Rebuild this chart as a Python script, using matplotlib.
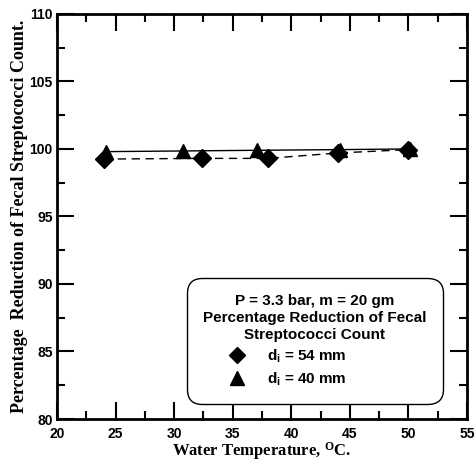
import matplotlib
matplotlib.use("Agg")
import matplotlib.pyplot as plt
from matplotlib.lines import Line2D
from matplotlib.ticker import MultipleLocator

# Data
temp_54 = [24.0, 32.4, 38.0, 44.0, 50.0]
red_54 = [99.25, 99.3, 99.3, 99.7, 99.95]
temp_40 = [24.2, 30.8, 37.1, 44.2, 50.1]
red_40 = [99.8, 99.85, 99.9, 99.95, 100.0]

legend_title = "P = 3.3 bar, m = 20 gm\nPercentage Reduction of Fecal\nStreptococci Count"
label_54 = r"$\mathregular{d_i}$ = 54 mm"
label_40 = r"$\mathregular{d_i}$ = 40 mm"

sans = "Liberation Sans"
serif = "Liberation Serif"

fig = plt.figure(figsize=(4.75, 4.63), dpi=100)
ax = fig.add_axes([0.12, 0.095, 0.863, 0.875])

ax.plot(temp_54, red_54, color="black", linestyle=(0, (6, 4)), linewidth=1.0,
        marker="D", markersize=9, markerfacecolor="black", markeredgecolor="black")
ax.plot(temp_40, red_40, color="black", linestyle="-", linewidth=1.0,
        marker="^", markersize=10, markerfacecolor="black", markeredgecolor="black")

ax.set_xlim(20, 55)
ax.set_ylim(80, 110)
ax.xaxis.set_major_locator(MultipleLocator(5))
ax.xaxis.set_minor_locator(MultipleLocator(2.5))
ax.yaxis.set_major_locator(MultipleLocator(5))
ax.yaxis.set_minor_locator(MultipleLocator(2.5))
ax.tick_params(which="both", direction="in", top=True, right=True, width=1.5, colors="black")
ax.tick_params(which="major", length=12)
ax.tick_params(which="minor", length=6)
ax.tick_params(axis="x", which="major", pad=6)
ax.tick_params(axis="y", which="major", pad=3)
for sp in ax.spines.values():
    sp.set_linewidth(2)

for lab in ax.get_xticklabels() + ax.get_yticklabels():
    lab.set_fontfamily(sans)
    lab.set_fontweight("bold")
    lab.set_fontsize(10)

ax.set_xlabel(r"Water Temperature, $\mathregular{^{O}}$C.", fontfamily=serif,
              fontweight="bold", fontsize=12, labelpad=-1)
ax.set_ylabel("Percentage  Reduction of Fecal Streptococci Count.", fontfamily=serif,
              fontweight="bold", fontsize=13, labelpad=1)

handles = [Line2D([], [], linestyle="none", marker="D", markersize=8, color="black"),
           Line2D([], [], linestyle="none", marker="^", markersize=10, color="black")]
leg = ax.legend(handles, [label_54, label_40], title=legend_title,
                loc="lower left", bbox_to_anchor=(0.317, 0.037), borderaxespad=0,
                frameon=True, fancybox=True, edgecolor="black", framealpha=1,
                handlelength=4.4, handletextpad=-0.2, borderpad=1.05, labelspacing=0.35,
                prop={"family": sans, "weight": "bold", "size": 11},
                title_fontproperties={"family": sans, "weight": "bold", "size": 11})
leg._legend_box.align = "left"
leg.get_title().set_multialignment("center")
leg.get_title().set_linespacing(1.3)
leg.get_frame().set_linewidth(1.0)
leg.get_frame().set_boxstyle("round", pad=0, rounding_size=1.0)

fig.savefig("out.png", dpi=100)
